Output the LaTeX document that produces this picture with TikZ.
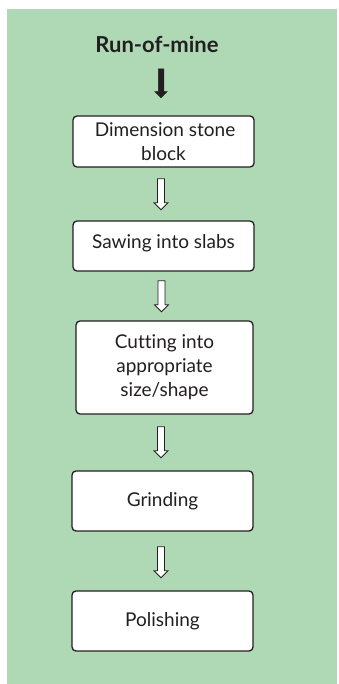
\documentclass[tikz,border=0pt]{standalone}
\usepackage{fontspec}
\setmainfont{Lato}[Ligatures=NoCommon]
\usetikzlibrary{calc,shapes.arrows}
\definecolor{panelgreen}{RGB}{174,217,180}
\definecolor{inkdark}{RGB}{35,31,32}
\tikzset{
  stepbox/.style={draw=inkdark, line width=1.3pt, rounded corners=4pt, fill=white,
    text=inkdark, font=\fontsize{19}{24}\selectfont, align=center, inner sep=0pt},
  hollowarrow/.style={single arrow, draw=inkdark, fill=white, line width=0.8pt,
    shape border rotate=270, minimum height=31pt, minimum width=14pt,
    inner sep=3pt, single arrow head extend=3.5pt, single arrow tip angle=90},
  solidarrow/.style={single arrow, draw=inkdark, fill=inkdark, line width=0.5pt,
    shape border rotate=270, minimum height=29pt, minimum width=12pt,
    inner sep=2.5pt, single arrow head extend=3.5pt, single arrow tip angle=90},
}
\begin{document}
\begin{tikzpicture}[x=1pt,y=-1pt]
  % page frame and green panel
  \useasboundingbox (0,0) rectangle (339,684);
  \fill[white] (0,0) rectangle (339,684);
  \fill[panelgreen] (7,9) rectangle (337,684);

  % title
  \node[font=\bfseries\fontsize{22}{26}\selectfont, text=inkdark] (title) at (157,44) {Run-of-mine};

  % process steps
  \node[stepbox, minimum width=181pt, minimum height=51pt] (b1) at (163.5,141.5)
    {\,Dimension stone\\block};
  \node[stepbox, minimum width=181pt, minimum height=50pt, text height=10pt, text depth=4.4pt]
    (b2) at (163.5,246) {Sawing into slabs};
  \node[stepbox, minimum width=177pt, minimum height=93pt] (b3) at (164.5,367.5)
    {Cutting into\\appropriate\\size/shape};
  \node[stepbox, minimum width=181pt, minimum height=60pt] (b4) at (162.5,501)
    {Grinding};
  \node[stepbox, minimum width=181pt, minimum height=60pt] (b5) at (162.5,621)
    {Polishing};

  % arrows between the steps
  \node[solidarrow] (a0) at (161,82) {};
  \node[hollowarrow] (a1) at ($(b1.south)!0.5!(b2.north)+(-2.5,-1.5)$) {};
  \node[hollowarrow] (a2) at ($(b2.south)!0.5!(b3.north)+(-2.5,-1.5)$) {};
  \node[hollowarrow] (a3) at ($(b3.south)!0.5!(b4.north)+(-2.5,-2)$) {};
  \node[hollowarrow] (a4) at ($(b4.south)!0.5!(b5.north)+(-1.5,-0.5)$) {};
\end{tikzpicture}
\end{document}
